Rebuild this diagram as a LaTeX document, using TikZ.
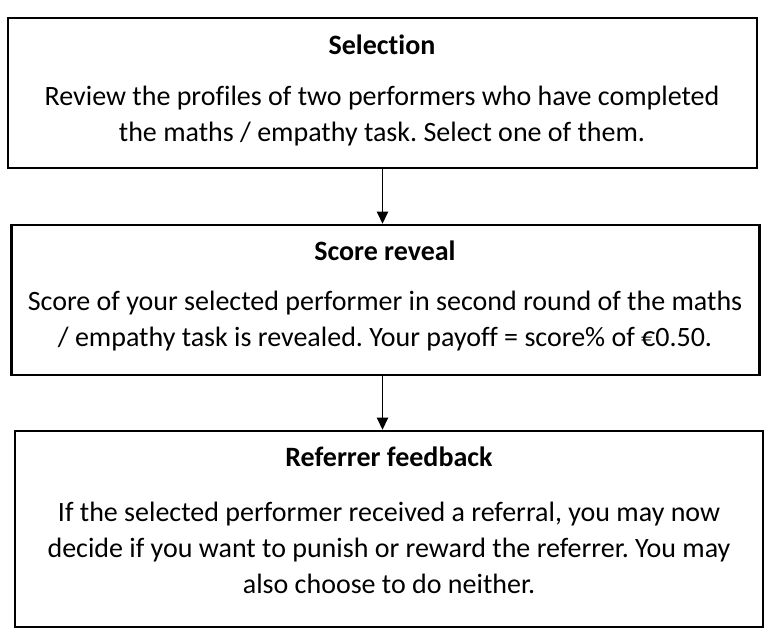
\documentclass[tikz,border=0pt]{standalone}
\usepackage{fontspec}
\setmainfont{Carlito}[Ligatures=NoCommon]
\usetikzlibrary{arrows.meta}
\frenchspacing
\begin{document}
\begin{tikzpicture}[x=1pt,y=-1pt,
  stage/.style={draw=black,line width=2.8pt,rectangle,inner sep=0pt},
  title/.style={font=\fontsize{28}{32}\selectfont\bfseries,anchor=center,inner sep=0pt},
  body/.style={font=\fontsize{28}{36}\selectfont,align=center,anchor=center,inner sep=0pt},
  flow/.style={line width=1.2pt,-{Triangle[width=11.5pt,length=12pt]}}]
\useasboundingbox (0,0) rectangle (780,642);
% stage boxes
\node[stage,minimum width=749pt,minimum height=150pt] (b1) at (382.5,93) {};
\node[stage,minimum width=748pt,minimum height=150pt] (b2) at (385.5,300) {};
\node[stage,minimum width=748pt,minimum height=196pt] (b3) at (389,529) {};
% texts
\node[title] (t1) at (382,45) {Selection};
\node[body] (d1) at (382,116) {Review the profiles of two performers who have completed\\the maths / empathy task. Select one of them.};
\node[title] (t2) at (385,251) {Score reveal};
\node[body] (d2) at (385,321) {Score of your selected performer in second round of the maths\\/ empathy task is revealed. Your payoff = score\% of €0.50.};
\node[title] (t3) at (389,457) {Referrer feedback};
\node[body] (d3) at (389,548) {If the selected performer received a referral, you may now\\decide if you want to punish or reward the referrer. You may\\also choose to do neither.};
% connectors
\draw[flow] (b1.south) -- (b1.south |- b2.north);
\draw[flow] (b2.south -| b1.south) -- (b1.south |- b3.north);
\end{tikzpicture}
\end{document}
